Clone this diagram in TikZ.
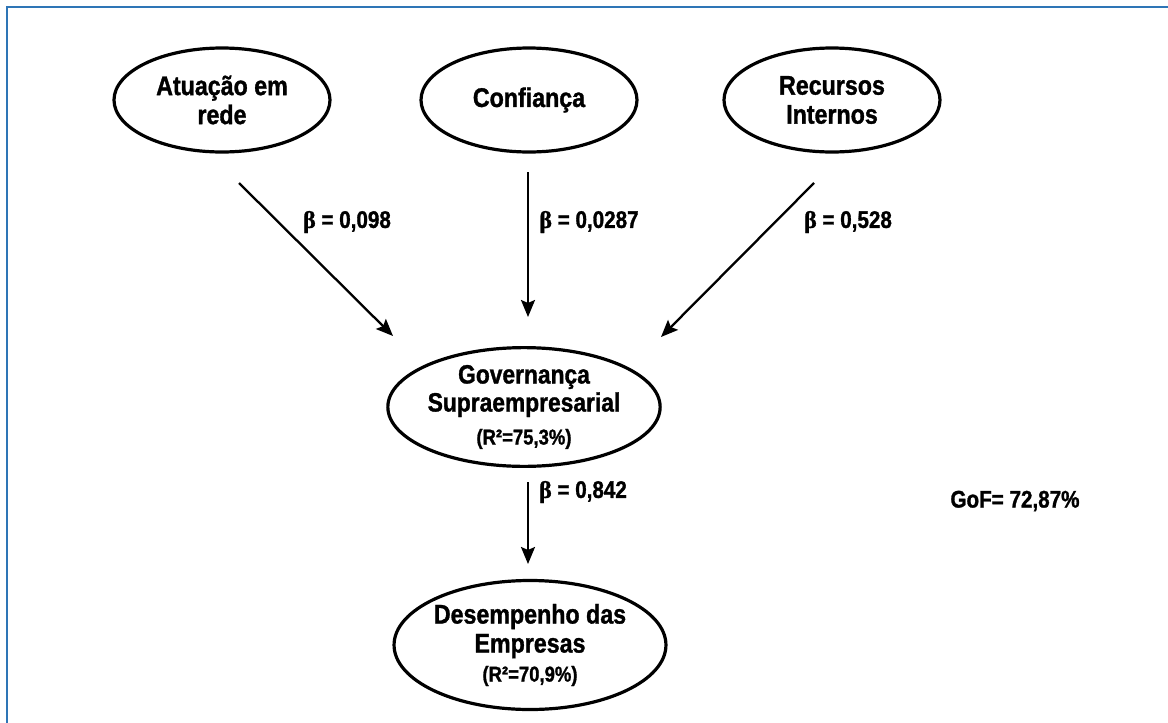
\documentclass[tikz,border=0pt]{standalone}
\usepackage{fontspec}
\setmainfont[FakeStretch=0.86, BoldFeatures={FakeBold=1.2}]{Liberation Sans}
\newfontfamily\betafont[BoldFeatures={FakeBold=1.2}]{Liberation Serif}
\usetikzlibrary{shapes.geometric,arrows.meta}
\definecolor{framebl}{RGB}{46,117,182}
\newcommand{\rsqfont}{\bfseries\fontsize{21.5}{23}\selectfont}
\tikzset{
  latent/.style={ellipse, draw=black, line width=3.2pt, inner sep=0pt, align=center,
    font=\bfseries\fontsize{27}{29}\selectfont},
  path/.style={line width=2.3pt, -{Stealth[length=17pt,width=14pt,inset=3pt]}},
  coef/.style={font=\bfseries\fontsize{24}{26}\selectfont, inner sep=0pt}
}
\newcommand{\bet}{{\betafont\bfseries β}}
\begin{document}
\begin{tikzpicture}[x=1pt,y=-1pt]
\useasboundingbox (0,0) rectangle (1168,723);
\draw[framebl, line width=2pt] (1168,7) -- (7,7) -- (7,723);

\node[latent, minimum width=216pt, minimum height=104pt] (atu) at (222,100) {Atuação em\\rede};
\node[latent, minimum width=216pt, minimum height=104pt] (con) at (529,100) {Confiança};
\node[latent, minimum width=216pt, minimum height=104pt] (rec) at (832,100) {Recursos\\Internos};
\node[latent, minimum width=240pt, minimum height=111pt] (gov) at (524,407)
  {\fontsize{26.5}{26}\selectfont Governança\\[-1pt]\fontsize{26.5}{26}\selectfont Supraempresarial\\[4pt]{\rsqfont(R²=75,3\%)}};
\node[latent, minimum width=268pt, minimum height=129pt] (des) at (530,645)
  {\fontsize{27}{28}\selectfont Desempenho das\\\fontsize{27}{28}\selectfont Empresas\\[0pt]{\rsqfont(R²=70,9\%)}};

\coordinate (a1s) at (239,183); \coordinate (a1e) at (393,336);
\coordinate (a2s) at (528,172); \coordinate (a2e) at (528,317);
\coordinate (a3s) at (814,183); \coordinate (a3e) at (661,337);
\coordinate (a4s) at (528,482); \coordinate (a4e) at (528,564);

\draw[path] (a1s) -- (a1e);
\draw[path] (a2s) -- (a2e);
\draw[path] (a3s) -- (a3e);
\draw[path] (a4s) -- (a4e);

\node[coef] (b1) at (347,222) {\bet{} = 0,098};
\node[coef] (b2) at (589,222) {\bet{} = 0,0287};
\node[coef] (b3) at (848,222) {\bet{} = 0,528};
\node[coef] (b4) at (583,492) {\bet{} = 0,842};
\node[coef] (gof) at (1015,501) {GoF= 72,87\%};
\end{tikzpicture}
\end{document}
